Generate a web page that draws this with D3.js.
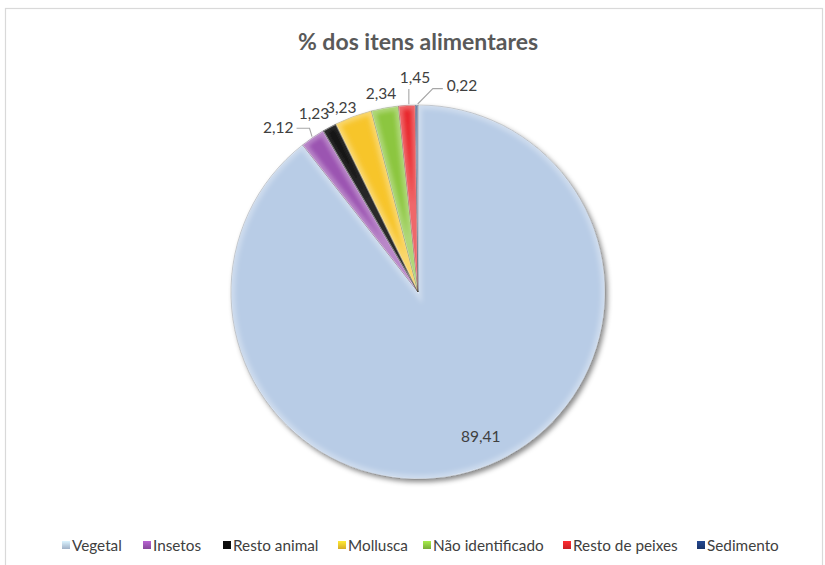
<!DOCTYPE html>
<html>
<head>
<meta charset="utf-8">
<script src="https://cdn.jsdelivr.net/npm/d3@7/dist/d3.min.js"></script>
<style>
  html, body { margin: 0; padding: 0; background: #fff; }
  svg { display: block; }
  text { font-family: Lato, "Open Sans", sans-serif; }
</style>
</head>
<body>
<script>
// Composição da dieta: % dos itens alimentares
const categories = ["Vegetal", "Insetos", "Resto animal", "Mollusca", "Não identificado", "Resto de peixes", "Sedimento"];
const values = [89.41, 2.12, 1.23, 3.23, 2.34, 1.45, 0.22];
const valueLabels = ["89,41", "2,12", "1,23", "3,23", "2,34", "1,45", "0,22"];
const colors = ["#b8cce6", "#9b54b1", "#0c0c0c", "#f7c52c", "#8cc63f", "#e8262a", "#1f3d7a"];
const title = "% dos itens alimentares";

// Layout settings
const W = 825, H = 565;
const cx = 418, cy = 292, R = 187;
// label placement: angle offset from slice mid (deg) and distance from centre
const labelPolar = [[-4.5, 157], [-6.0, 216], [-1.9, 207], [-2.35, 200], [-0.3, 202], [2.6, 215], [12.4, 212]];
const legendX = [62, 143, 223, 338, 423, 563, 697];

const svg = d3.select("body").append("svg").attr("width", W).attr("height", H);
const defs = svg.append("defs");

// chart frame
svg.append("rect").attr("x", 5.5).attr("y", 8.5).attr("width", 817).attr("height", 570)
  .attr("fill", "#fff").attr("stroke", "#d9d9d9").attr("stroke-width", 1.2);

svg.append("text").attr("x", 418).attr("y", 50).attr("text-anchor", "middle")
  .attr("font-size", 23).attr("font-weight", 700).attr("fill", "#595959").text(title);

// filters
const shadow = defs.append("filter").attr("id", "shadow").attr("x", "-20%").attr("y", "-20%").attr("width", "140%").attr("height", "140%");
shadow.append("feDropShadow").attr("dx", 2.5).attr("dy", 3).attr("stdDeviation", 2.5)
  .attr("flood-color", "#000").attr("flood-opacity", 0.45);
const blur = defs.append("filter").attr("id", "soft");
blur.append("feGaussianBlur").attr("stdDeviation", 2.2);

const pie = d3.pie().sort(null).value(d => d)(values);
const arc = d3.arc().innerRadius(0).outerRadius(R);

const g = svg.append("g").attr("transform", `translate(${cx},${cy})`);
const shapes = g.append("g").attr("filter", "url(#shadow)");

pie.forEach((p, i) => {
  defs.append("clipPath").attr("id", "clip" + i).append("path").attr("d", arc(p));
  const sg = shapes.append("g");
  sg.append("path").attr("d", arc(p)).attr("fill", colors[i]);
  // bevel highlight along slice edges
  sg.append("path").attr("d", arc(p)).attr("fill", "none")
    .attr("stroke", "#fff").attr("stroke-opacity", i === 2 ? 0.12 : 0.3).attr("stroke-width", 8)
    .attr("clip-path", `url(#clip${i})`).attr("filter", "url(#soft)");
  sg.append("path").attr("d", arc(p)).attr("fill", "none")
    .attr("stroke", "#fff").attr("stroke-opacity", 0.55).attr("stroke-width", 1.4)
    .attr("clip-path", `url(#clip${i})`);
  sg.append("path").attr("d", arc(p)).attr("fill", "none")
    .attr("stroke", "#000").attr("stroke-opacity", 0.2).attr("stroke-width", 0.8);
});

// data labels
const toXY = (deg, r) => {
  const a = deg * Math.PI / 180;
  return [r * Math.sin(a), -r * Math.cos(a)];
};
const labels = g.append("g");
pie.forEach((p, i) => {
  const mid = (p.startAngle + p.endAngle) / 2 * 180 / Math.PI;
  const [lx, ly] = toXY(mid + labelPolar[i][0], labelPolar[i][1]);
  const t = labels.append("text").attr("x", lx).attr("y", ly)
    .attr("text-anchor", "middle").attr("dominant-baseline", "central")
    .attr("font-size", 15.5).attr("fill", "#404040").text(valueLabels[i]);
  const bb = t.node().getBBox();
  const [ex, ey] = toXY(mid, R + 1);
  let pts = null;
  if (i === 1) pts = [[ex, ey], [bb.x + bb.width + 16, ly + 1], [bb.x + bb.width + 3, ly + 1]];
  if (i === 5) pts = [[ex + 2, ey], [ex + 2, bb.y + bb.height + 3]];
  if (i === 6) pts = [[ex + 1, ey], [bb.x - 14, ly + 4], [bb.x - 4, ly + 4]];
  if (pts) labels.append("polyline").attr("points", pts.map(d => d.join(",")).join(" "))
    .attr("fill", "none").attr("stroke", "#a6a6a6").attr("stroke-width", 1.1);
});

// legend
const leg = svg.append("g");
categories.forEach((c, i) => {
  const x = legendX[i];
  const grad = defs.append("linearGradient").attr("id", "lg" + i).attr("x1", 0).attr("y1", 0).attr("x2", 0).attr("y2", 1);
  grad.append("stop").attr("offset", "0%").attr("stop-color", d3.color(colors[i]).brighter(0.5));
  grad.append("stop").attr("offset", "100%").attr("stop-color", d3.color(colors[i]).darker(0.4));
  leg.append("rect").attr("x", x).attr("y", 541).attr("width", 8).attr("height", 8)
    .attr("fill", `url(#lg${i})`);
  leg.append("text").attr("x", x + 10).attr("y", 551).attr("font-size", 15.3)
    .attr("fill", "#404040").text(c);
});
</script>
</body>
</html>
